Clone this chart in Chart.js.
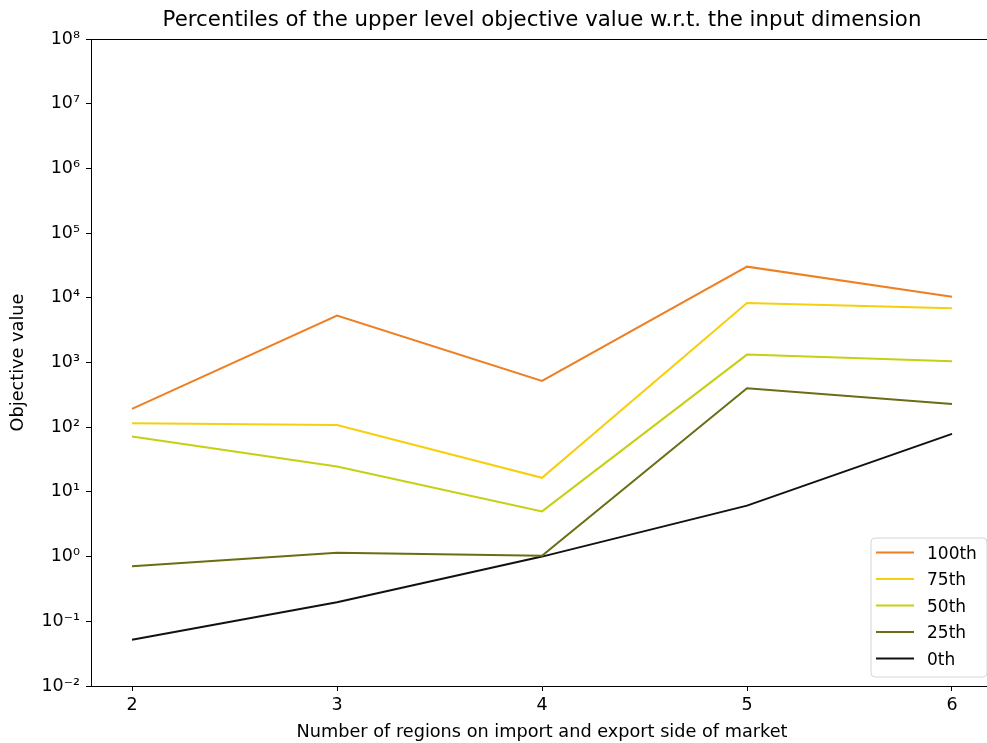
<!DOCTYPE html>
<html>
<head>
<meta charset="utf-8">
<script src="https://cdn.jsdelivr.net/npm/chart.js@4/dist/chart.umd.min.js"></script>
<style>
  html, body { margin: 0; padding: 0; overflow: hidden; background: #ffffff; }
  #wrap { position: relative; width: 1000px; height: 743px; }
</style>
</head>
<body>
<div id="wrap"><canvas id="chart"></canvas></div>
<script>
// Number of regions on each side of the market
const regions = [2, 3, 4, 5, 6];

// Percentiles of the upper level objective value
const p100 = [192, 5300, 520, 30300, 10400];
const p75  = [115, 108, 16.5, 8330, 6880];
const p50  = [71.6, 24.6, 5.0, 1325, 1043];
const p25  = [0.708, 1.15, 1.03, 400, 229];
const p0   = [0.052, 0.197, 1.0, 6.14, 78.8];

const seriesLabels = ['100th', '75th', '50th', '25th', '0th'];
const seriesColors = ['#ee7f22', '#f6cf0e', '#c6cf12', '#6a6d14', '#111111'];

// Decade ticks for the log axis
const yTickValues = [1e-2, 1e-1, 1e0, 1e1, 1e2, 1e3, 1e4, 1e5, 1e6, 1e7, 1e8];
const supers = {'-': '\u207B', '0': '\u2070', '1': '\u00B9', '2': '\u00B2', '3': '\u00B3',
  '4': '\u2074', '5': '\u2075', '6': '\u2076', '7': '\u2077', '8': '\u2078', '9': '\u2079'};

const titleText = 'Percentiles of the upper level objective value w.r.t. the input dimension';
const xTitle = 'Number of regions on import and export side of market';
const yTitle = 'Objective value';

const FONT = '"DejaVu Sans", sans-serif';

function toPoints(values) {
  return regions.map((r, i) => ({ x: r, y: values[i] }));
}

const allSeries = [p100, p75, p50, p25, p0];
const datasets = allSeries.map((vals, i) => ({
  label: seriesLabels[i],
  data: toPoints(vals),
  borderColor: seriesColors[i],
  backgroundColor: seriesColors[i],
  borderWidth: 2,
  pointRadius: 0,
  tension: 0,
  fill: false
}));

// Title, axis titles, top spine and the boxed legend
const decorations = {
  id: 'decorations',
  afterDraw(chart) {
    const ctx = chart.ctx;
    const a = chart.chartArea;
    ctx.save();
    // top spine
    ctx.strokeStyle = '#000000';
    ctx.lineWidth = 1;
    ctx.beginPath();
    ctx.moveTo(a.left, a.top + 0.5);
    ctx.lineTo(a.right, a.top + 0.5);
    ctx.stroke();

    // title
    ctx.fillStyle = '#000000';
    ctx.font = '21.3px ' + FONT;
    ctx.textAlign = 'center';
    ctx.textBaseline = 'alphabetic';
    ctx.fillText(titleText, (a.left + a.right) / 2, 26);

    // axis titles
    ctx.font = '17.7px ' + FONT;
    ctx.fillText(xTitle, (a.left + a.right) / 2, 737);
    ctx.save();
    ctx.translate(23, (a.top + a.bottom) / 2);
    ctx.rotate(-Math.PI / 2);
    ctx.fillText(yTitle, 0, 0);
    ctx.restore();

    // legend
    const bx = 871, by = 538, bw = 116, bh = 139, r = 4;
    ctx.beginPath();
    ctx.moveTo(bx + r, by);
    ctx.lineTo(bx + bw - r, by);
    ctx.arcTo(bx + bw, by, bx + bw, by + r, r);
    ctx.lineTo(bx + bw, by + bh - r);
    ctx.arcTo(bx + bw, by + bh, bx + bw - r, by + bh, r);
    ctx.lineTo(bx + r, by + bh);
    ctx.arcTo(bx, by + bh, bx, by + bh - r, r);
    ctx.lineTo(bx, by + r);
    ctx.arcTo(bx, by, bx + r, by, r);
    ctx.closePath();
    ctx.fillStyle = 'rgba(255,255,255,0.8)';
    ctx.fill();
    ctx.strokeStyle = '#d6d6d6';
    ctx.lineWidth = 1;
    ctx.stroke();

    ctx.textAlign = 'left';
    ctx.textBaseline = 'alphabetic';
    ctx.font = '17px ' + FONT;
    chart.data.datasets.forEach((ds, i) => {
      const y = 552.5 + i * 26.5;
      ctx.strokeStyle = ds.borderColor;
      ctx.lineWidth = 2;
      ctx.beginPath();
      ctx.moveTo(876, y);
      ctx.lineTo(914, y);
      ctx.stroke();
      ctx.fillStyle = '#000000';
      ctx.fillText(ds.label, 927, y + 6);
    });
    ctx.restore();
  }
};

new Chart(document.getElementById('chart'), {
  type: 'line',
  data: { datasets },
  plugins: [decorations],
  options: {
    responsive: true,
    maintainAspectRatio: false,
    devicePixelRatio: 1,
    animation: false,
    layout: { padding: { top: 39, right: 7, bottom: 0, left: 0 } },
    plugins: {
      legend: { display: false },
      title: { display: false },
      tooltip: { enabled: false }
    },
    scales: {
      x: {
        type: 'linear',
        min: 1.8,
        max: 6.2,
        afterBuildTicks(scale) { scale.ticks = regions.map(v => ({ value: v })); },
        afterFit(scale) { scale.height = 57; },
        ticks: {
          color: '#000000',
          font: { family: FONT, size: 17.5 },
          padding: 4,
          maxRotation: 0,
          callback: v => String(v)
        },
        grid: { drawOnChartArea: false, drawTicks: true, tickLength: 5, color: '#000000', tickWidth: 1 },
        border: { display: true, color: '#000000', width: 1 }
      },
      y: {
        type: 'logarithmic',
        min: 1e-2,
        max: 1e8,
        afterBuildTicks(scale) { scale.ticks = yTickValues.map(v => ({ value: v })); },
        afterFit(scale) { scale.width = 91; },
        ticks: {
          color: '#000000',
          font: { family: FONT, size: 17.5 },
          padding: 6,
          callback: v => {
            const e = String(Math.round(Math.log10(v)));
            return '10' + e.split('').map(c => supers[c]).join('');
          }
        },
        grid: { drawOnChartArea: false, drawTicks: true, tickLength: 5, color: '#000000', tickWidth: 1 },
        border: { display: true, color: '#000000', width: 1 }
      }
    }
  }
});
</script>
</body>
</html>
